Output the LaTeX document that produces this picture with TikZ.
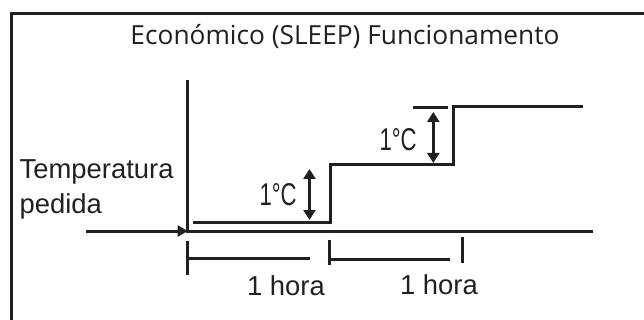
\documentclass[tikz,border=0pt]{standalone}
\usepackage{fontspec}
\setmainfont{Liberation Sans}
\newfontfamily\titlefont{Open Sans}
\usetikzlibrary{arrows.meta}
\definecolor{ink}{RGB}{35,31,32}
\tikzset{
  line/.style={draw=ink, line width=3pt},
  frameline/.style={draw=ink, line width=3.2pt},
  dblarrow/.style={draw=ink, line width=3pt, {Triangle[width=12pt,length=10pt]}-{Triangle[width=12pt,length=10pt]}},
  mainarrow/.style={draw=ink, line width=3pt, -{Triangle[width=11pt,length=10pt]}},
  lbl/.style={inner sep=0pt, text=ink, font=\fontsize{27.4}{30}\selectfont},
}
\begin{document}
\begin{tikzpicture}[x=1pt,y=-1pt]
\useasboundingbox (0,0) rectangle (644,320);
\clip (0,0) rectangle (644,320);
% frame (only top and left edges visible)
\draw[frameline] (11.3,13.3) rectangle (700,400);
% title
\node[lbl, anchor=base] (title) at (345,44.3) {\resizebox{429pt}{!}{\titlefont Económico (SLEEP) Funcionamento}};
% axes
\coordinate (ytop) at (187.7,80);
\coordinate (orig) at (187.7,231);
\coordinate (xend) at (593,231);
\coordinate (arrstart) at (86,231);
\draw[line] (ytop) -- (orig) -- (xend);
\draw[mainarrow] (arrstart) -- (orig);
% step curve
\coordinate (s0) at (193,222.7);
\coordinate (s1) at (330,222.7);
\coordinate (s2) at (330,165);
\coordinate (s3) at (453,165);
\coordinate (s4) at (453,106.5);
\coordinate (s5) at (583,106.5);
\draw[line] (s0) -- (s1) -- (s2) -- (s3) -- (s4) -- (s5);
\coordinate (ref1) at (413,108);
\coordinate (ref2) at (448,108);
\draw[line] (ref1) -- (ref2);
% 1 degree arrows
\coordinate (a1t) at (309.5,169);
\coordinate (a1b) at (309.5,220);
\draw[dblarrow] (a1t) -- (a1b);
\coordinate (a2t) at (433.3,112);
\coordinate (a2b) at (433.3,163);
\draw[dblarrow] (a2t) -- (a2b);
\node[lbl, anchor=base] (deg1) at (278,205) {\resizebox{37pt}{22pt}{1°C}};
\node[lbl, anchor=base] (deg2) at (398,150.7) {\resizebox{37pt}{22pt}{1°C}};
% left label
\node[lbl, anchor=base west] (temp) at (19.5,178.3) {Temperatura};
\node[lbl, anchor=base west] (ped) at (19.5,214) {pedida};
% time scale
\coordinate (t1a) at (187.7,240.5);
\coordinate (t1b) at (187.7,275);
\coordinate (t2a) at (329,239.5);
\coordinate (t2b) at (329,265);
\coordinate (t3a) at (462.7,236.7);
\coordinate (t3b) at (462.7,263.3);
\coordinate (h1a) at (187.7,258);
\coordinate (h1b) at (310,258);
\coordinate (h2a) at (329,259);
\coordinate (h2b) at (449.5,259);
\draw[line] (t1a) -- (t1b);
\draw[line] (t2a) -- (t2b);
\draw[line] (t3a) -- (t3b);
\draw[line] (h1a) -- (h1b);
\draw[line] (h2a) -- (h2b);
\node[lbl, anchor=base] (hora1) at (286,295) {1 hora};
\node[lbl, anchor=base] (hora2) at (439,294) {1 hora};
\end{tikzpicture}
\end{document}
